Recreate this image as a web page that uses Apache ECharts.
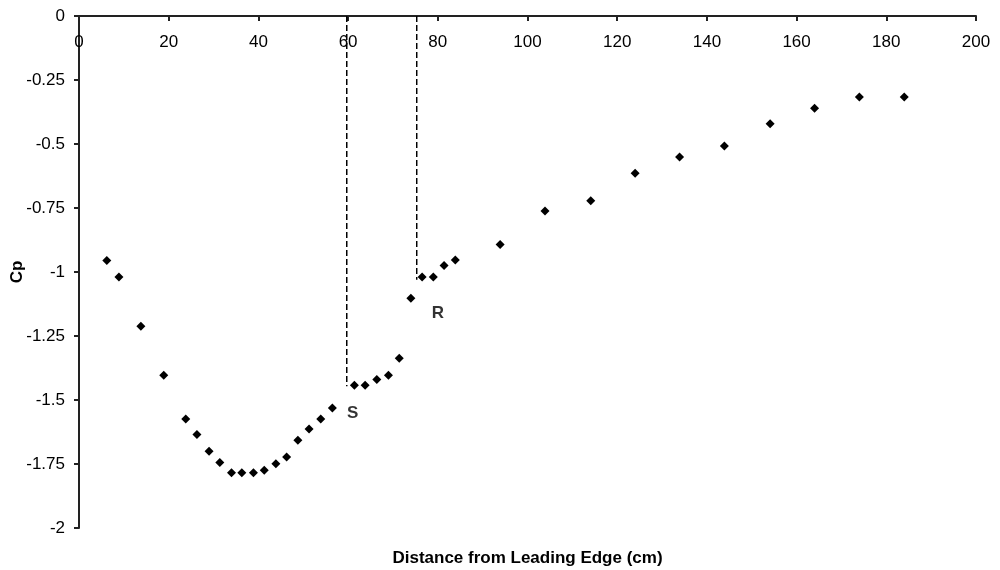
<!DOCTYPE html>
<html>
<head>
<meta charset="utf-8">
<script src="https://cdn.jsdelivr.net/npm/echarts@6/dist/echarts.min.js"></script>
<style>
html,body{margin:0;padding:0;background:#fff;}
#c{width:1000px;height:570px;}
</style>
</head>
<body>
<div id="c"></div>
<script>
// Data
const distance = [6.2, 8.9, 13.8, 18.9, 23.8, 26.3, 29.0, 31.4, 34.0, 36.3, 38.9, 41.3, 43.9, 46.3, 48.8, 51.3, 53.9, 56.5, 61.4, 63.8, 66.4, 69.0, 71.4, 74.0, 76.5, 79.0, 81.4, 83.9, 93.9, 103.9, 114.1, 124.0, 133.9, 143.9, 154.1, 164.0, 174.0, 184.0];
const cp = [-0.955, -1.02, -1.212, -1.403, -1.574, -1.635, -1.70, -1.744, -1.784, -1.784, -1.784, -1.774, -1.749, -1.723, -1.657, -1.613, -1.574, -1.531, -1.442, -1.442, -1.42, -1.403, -1.337, -1.103, -1.02, -1.02, -0.975, -0.953, -0.893, -0.762, -0.722, -0.614, -0.551, -0.508, -0.421, -0.360, -0.316, -0.316];
const sLineX = [59.7, 59.7];
const sLineY = [0, -1.446];
const rLineX = [75.3, 75.3];
const rLineY = [0, -1.03];
const markNames = ['S', 'R'];
const markX = [61, 80];
const markY = [-1.553, -1.163];

const font = '"Liberation Sans", Arial, sans-serif';
const zip = (a, b) => a.map((v, i) => [v, b[i]]);

const chart = echarts.init(document.getElementById('c'), null, {renderer: 'canvas'});
chart.setOption({
  animation: false,
  backgroundColor: '#fff',
  grid: {left: 79, right: 24, top: 16, bottom: 42, containLabel: false, outerBoundsMode: 'none'},
  xAxis: {
    type: 'value', position: 'top', min: 0, max: 200, interval: 20,
    name: 'Distance from Leading Edge (cm)', nameLocation: 'middle',
    nameGap: -551, nameMoveOverlap: false,
    nameTextStyle: {fontFamily: font, fontWeight: 'bold', fontSize: 17, color: '#000'},
    axisLine: {show: true, onZero: false, lineStyle: {color: '#222', width: 2}},
    axisTick: {show: true, inside: true, length: 5, lineStyle: {color: '#222', width: 2}},
    axisLabel: {inside: true, margin: 18, fontFamily: font, fontSize: 17, color: '#000'},
    splitLine: {show: false}
  },
  yAxis: {
    type: 'value', min: -2, max: 0, interval: 0.25,
    name: 'Cp', nameLocation: 'middle', nameGap: 62, nameRotate: 90, nameMoveOverlap: false,
    nameTextStyle: {fontFamily: font, fontWeight: 'bold', fontSize: 17, color: '#000',
      align: 'center', verticalAlign: 'middle'},
    axisLine: {show: true, onZero: false, lineStyle: {color: '#222', width: 2}},
    axisTick: {show: true, length: 5, lineStyle: {color: '#222', width: 2}},
    axisLabel: {margin: 14, fontFamily: font, fontSize: 17, color: '#000'},
    splitLine: {show: false}
  },
  series: [
    {
      type: 'line', data: zip(sLineX, sLineY), symbol: 'none', silent: true,
      lineStyle: {color: '#000', width: 1.5, type: [6, 3]}
    },
    {
      type: 'line', data: zip(rLineX, rLineY), symbol: 'none', silent: true,
      lineStyle: {color: '#000', width: 1.5, type: [6, 3]}
    },
    {
      type: 'scatter', data: zip(distance, cp), symbol: 'diamond', symbolSize: 9,
      itemStyle: {color: '#000', opacity: 1}
    },
    {
      type: 'scatter', symbolSize: 0,
      data: markNames.map((n, i) => ({name: n, value: [markX[i], markY[i]]})),
      label: {show: true, position: 'inside', formatter: '{b}', fontFamily: font,
        fontWeight: 'bold', fontSize: 17, color: '#000'}
    }
  ]
});
</script>
</body>
</html>
